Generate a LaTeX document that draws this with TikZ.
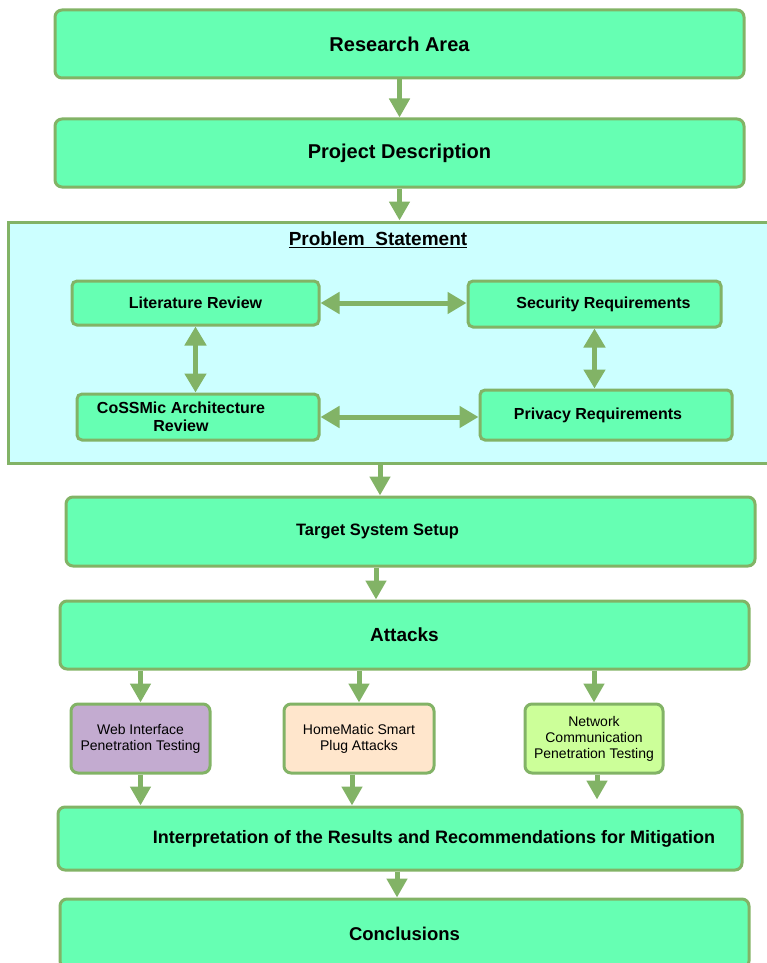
\documentclass[tikz,border=0pt]{standalone}
\usepackage{fontspec}
\setmainfont{Liberation Sans}
\usetikzlibrary{arrows.meta,positioning,calc}
\definecolor{boxfill}{HTML}{66FFB3}
\definecolor{boxline}{HTML}{82B366}
\definecolor{psfill}{HTML}{CCFFFF}
\definecolor{webfill}{HTML}{C3ABD0}
\definecolor{plugfill}{HTML}{FFE6CC}
\definecolor{netfill}{HTML}{CCFF99}

\begin{document}
\begin{tikzpicture}[x=1pt,y=-1pt,
    mainbox/.style={draw=boxline,fill=boxfill,line width=3pt,rounded corners=7pt,
      minimum width=689pt,minimum height=68pt,inner sep=0pt,
      font=\fontsize{20}{24}\selectfont\bfseries},
    psbox/.style={draw=boxline,fill=boxfill,line width=3pt,rounded corners=5pt,
      inner sep=0pt,align=center,font=\fontsize{16}{18}\selectfont\bfseries},
    attbox/.style={draw=boxline,line width=3pt,rounded corners=7pt,
      minimum width=139pt,minimum height=69pt,inner sep=0pt,align=center,
      font=\fontsize{14}{16}\selectfont},
    flow/.style={boxline,line width=5pt,-{Triangle[width=20pt,length=19pt]}},
    both/.style={boxline,line width=5pt,
      {Triangle[width=21pt,length=19pt]}-{Triangle[width=21pt,length=19pt]}}]
  \useasboundingbox (0,0) rectangle (767,963);
  % top of the flow
  \node[mainbox] (ra) at (399.5,44) {Research Area};
  \node[mainbox] (pd) at (399.5,153) {Project Description};
  % problem statement container
  \node[draw=boxline,fill=psfill,line width=3pt,minimum width=764pt,
    minimum height=241pt,inner sep=0pt] (ps) at (390,342.5) {};
  \node[font=\fontsize{19}{22}\selectfont\bfseries] (pst) at (378,240)
    {\underline{Problem\ \ Statement}};
  \node[psbox,minimum width=247pt,minimum height=44pt] (lr) at (195.5,303)
    {Literature Review};
  \node[psbox,minimum width=253pt,minimum height=46pt,
    label={[font=\fontsize{16}{18}\selectfont\bfseries,xshift=9pt]center:Security Requirements}]
    (sr) at (594.5,304) {};
  \node[psbox,minimum width=242pt,minimum height=46pt,
    label={[font=\fontsize{16}{18}\selectfont\bfseries,align=center,xshift=-17pt]center:CoSSMic Architecture\\Review}]
    (ca) at (198,417) {};
  \node[psbox,minimum width=252pt,minimum height=50pt,
    label={[font=\fontsize{16}{18}\selectfont\bfseries,xshift=-8pt]center:Privacy Requirements}]
    (pr) at (606,415) {};
  \draw[both] (lr.east) -- (lr.east -| sr.west);
  \draw[both] (lr.south) -- (lr.south |- ca.north);
  \draw[both] (sr.south) -- (sr.south |- pr.north);
  \draw[both] (ca.east) -- (ca.east -| pr.west);
  % setup and attacks
  \node[mainbox,minimum height=69pt,
    label={[font=\fontsize{16.5}{19}\selectfont\bfseries,xshift=-33pt]center:Target System Setup}]
    (ts) at (410.5,531.5) {};
  \node[mainbox,font=\fontsize{19}{22}\selectfont\bfseries] (at) at (404.5,635) {Attacks};
  \node[attbox,fill=webfill] (wi) at (140.5,738.5) {Web Interface\\Penetration Testing};
  \node[attbox,fill=plugfill,minimum width=150pt] (hm) at (359,738.5)
    {HomeMatic Smart\\Plug Attacks};
  \node[attbox,fill=netfill,minimum width=138pt] (nc) at (594,738.5)
    {Network\\Communication\\Penetration Testing};
  % results
  \node[mainbox,minimum width=684pt,minimum height=63pt,
    label={[font=\fontsize{18}{22}\selectfont\bfseries,xshift=34pt]center:Interpretation of the Results and Recommendations for Mitigation}]
    (ir) at (400,838.5) {};
  \node[mainbox,minimum height=69pt,font=\fontsize{18.5}{22}\selectfont\bfseries]
    (co) at (404.5,933.5) {Conclusions};
  % connectors
  \draw[flow] (ra.south) -- (pd.north);
  \draw[flow] (pd.south) -- (pd.south |- ps.north);
  \draw[flow] (380,0 |- ps.south) -- (380,0 |- ts.north);
  \draw[flow] (376,0 |- ts.south) -- (376,0 |- at.north);
  \draw[flow] (wi.north |- at.south) -- (wi.north);
  \draw[flow] (hm.north |- at.south) -- (hm.north);
  \draw[flow] (nc.north |- at.south) -- (nc.north);
  \draw[flow] (wi.south) -- (wi.south |- ir.north);
  \draw[flow] (352,0 |- hm.south) -- (352,0 |- ir.north);
  \draw[flow,shorten >=6pt] (597,0 |- nc.south) -- (597,0 |- ir.north);
  \draw[flow] (397,0 |- ir.south) -- (397,0 |- co.north);
\end{tikzpicture}
\end{document}
